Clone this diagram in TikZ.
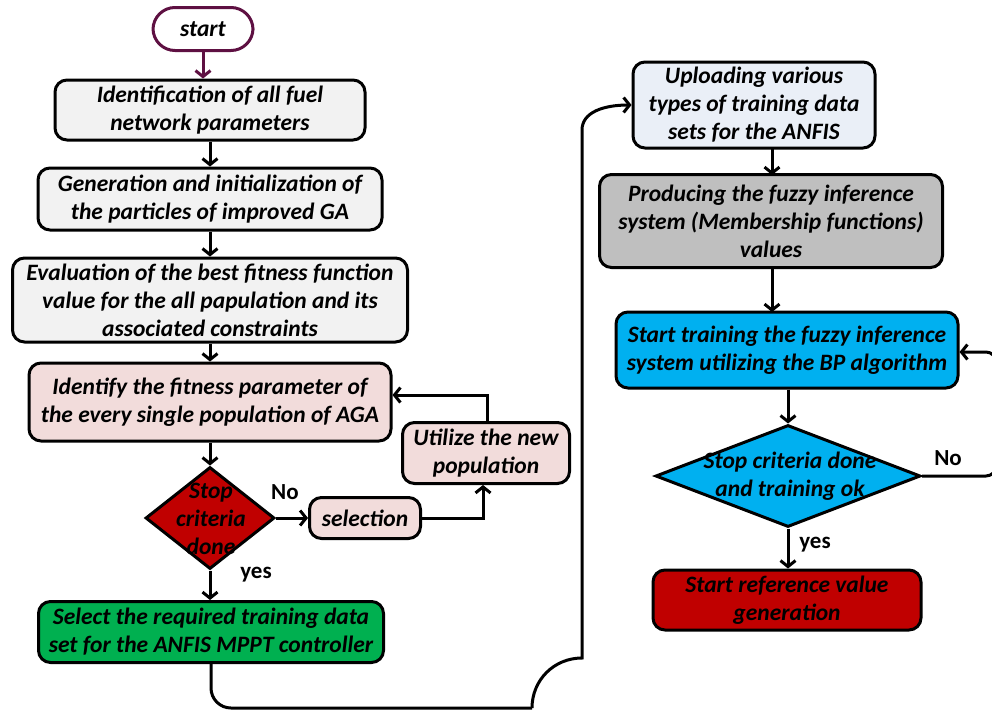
\documentclass[tikz,border=0pt]{standalone}
\usepackage{fontspec}
\setmainfont{Carlito}
\usetikzlibrary{arrows.meta,shapes.geometric}
\definecolor{startc}{HTML}{5E1042}
\definecolor{lgray}{HTML}{F2F2F2}
\definecolor{pinkc}{HTML}{F2DCDB}
\definecolor{redc}{HTML}{C00000}
\definecolor{greenc}{HTML}{00B050}
\definecolor{bluec}{HTML}{00B0F0}
\definecolor{paleblue}{HTML}{EAEFF7}
\definecolor{grayc}{HTML}{BFBFBF}
\begin{document}
\begin{tikzpicture}[x=1pt,y=-1pt,
  txt/.style={font=\fontsize{23.5}{28}\selectfont\bfseries\itshape, align=center},
  box/.style={txt, draw, line width=3pt, rounded corners=12pt, inner sep=0pt},
  diam/.style={draw, line width=3pt, diamond, inner sep=0pt, aspect=1},
  lab/.style={font=\fontsize{23}{26}\selectfont\bfseries},
  conn/.style={line width=3pt, -{Straight Barb[length=6pt,width=15pt,line width=3pt]}},
  line/.style={line width=3pt}
]
\useasboundingbox (0,0) rectangle (992,710);

% left column
\node[box, draw=startc, rounded corners=22pt, minimum width=100pt, minimum height=43pt] (start) at (203,29) {start};
\node[box, fill=lgray, minimum width=310pt, minimum height=60pt] (ident) at (210,110) {Identification of all fuel\\network parameters};
\node[box, fill=lgray, minimum width=344pt, minimum height=62pt] (gen) at (210,199) {Generation and initialization of\\the particles of improved GA};
\node[box, fill=lgray, minimum width=395pt, minimum height=84pt] (eval) at (210,300) {Evaluation of the best fitness function\\value for the all papulation and its\\associated constraints};
\node[box, fill=pinkc, minimum width=362pt, minimum height=78pt] (fit) at (210,402) {Identify the fitness parameter of\\the every single population of AGA};
\node[diam, fill=redc, minimum width=129pt, minimum height=102pt] (d1) at (210,518) {};
\node[txt] at (211,519) {Stop\\criteria\\done};
\node[box, fill=pinkc, minimum width=111pt, minimum height=41pt] (sel) at (365,518) {selection};
\node[box, fill=pinkc, minimum width=167pt, minimum height=61pt] (util) at (486,453) {Utilize the new\\population};
\node[box, fill=greenc, minimum width=345pt, minimum height=61pt] (green) at (211,632) {Select the required training data\\set for the ANFIS MPPT controller};

\node[lab] at (285,492) {No};
\node[lab] at (256,575) {yes};

% right column
\node[box, fill=paleblue, minimum width=242pt, minimum height=86pt] (up) at (754,105) {Uploading various\\types of training data\\sets for the ANFIS};
\node[box, fill=grayc, minimum width=343pt, minimum height=93pt] (prod) at (771,221) {Producing the fuzzy inference\\system (Membership functions)\\values};
\node[box, fill=bluec, minimum width=342pt, minimum height=76pt] (train) at (787,350) {Start training the fuzzy inference\\system utilizing the BP algorithm};
\node[diam, fill=bluec, minimum width=265pt, minimum height=102pt] (d2) at (788,476) {};
\node[txt] at (790,476) {Stop criteria done\\and training ok};
\node[box, fill=redc, minimum width=268pt, minimum height=60pt] (ref) at (787,600) {Start reference value\\generation};

\node[lab] at (948,458) {No};
\node[lab] at (815,545) {yes};

% connectors left
\draw[conn, draw=startc] (start) -- (start |- ident.north);
\draw[conn] (ident) -- (ident |- gen.north);
\draw[conn] (gen) -- (gen |- eval.north);
\draw[conn] (eval) -- (eval |- fit.north);
\draw[conn] (fit) -- (d1.north);
\draw[conn] (d1.south) -- (d1 |- green.north);
\draw[conn] (d1.east) -- (sel.west);
\coordinate (sc) at (483,518);
\draw[conn] (sel.east) -- (sc) -- (sc |- util.south);
\coordinate (uc) at (487,395);
\draw[conn] (uc |- util.north) -- (uc) -- (fit.east |- uc);

% long connector
\coordinate (b1) at (211,708);
\coordinate (b2) at (532,708);
\coordinate (b3) at (582,658);
\coordinate (b4) at (582,130);
\draw[line, rounded corners=20pt] (green.south) -- (b1) -- (b2);
\draw[conn] (b2) .. controls (532,680) and (554,658) .. (b3) -- (b4) .. controls (582,112) and (604,105) .. (up.west);

% connectors right
\draw[conn] (772,148) -- (772,175);
\draw[conn] (772,268) -- (772,312);
\draw[conn] (train.south -| d2) -- (d2.north);
\draw[conn] (d2.south) -- (d2 |- ref.north);
\coordinate (r1) at (996,476);
\coordinate (r2) at (996,352);
\draw[conn, rounded corners=10pt] (d2.east) -- (r1) -- (r2) -- (train.east |- r2);
\end{tikzpicture}
\end{document}
